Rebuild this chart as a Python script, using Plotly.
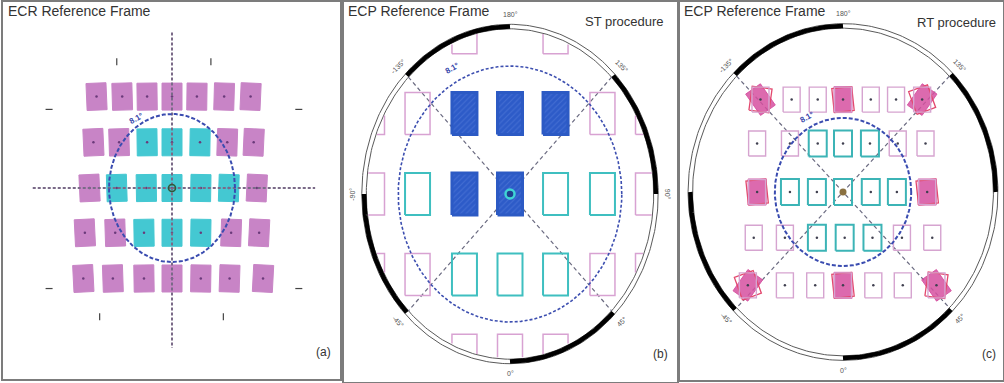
import numpy as np
import plotly.graph_objects as go

W, H = 1004, 383

# ---------------- data (degrees of visual angle) ----------------
circle_radius_deg = 8.1

# Panel (a): ECR frame, target centres per row (keystone distortion)
ecr_rows_deg = [10.0, 5.0, 0.0, -4.9, -9.9]
ecr_cols_deg = [
    [-9.7, -6.4, -3.2, 0.0, 3.2, 6.7, 10.1],
    [-10.1, -6.8, -3.2, 0.0, 3.6, 7.1, 10.5],
    [-10.6, -7.1, -3.3, 0.0, 3.7, 7.3, 10.9],
    [-11.2, -7.3, -3.6, 0.0, 3.7, 7.6, 11.2],
    [-11.4, -7.6, -3.6, 0.0, 3.7, 7.4, 11.7],
]
# 1 = target inside the 8.1 deg circle (cyan), 0 = outer target (magenta)
ecr_class = [
    [0, 0, 0, 0, 0, 0, 0],
    [0, 0, 1, 1, 1, 0, 0],
    [0, 1, 1, 1, 1, 1, 0],
    [0, 0, 1, 1, 1, 0, 0],
    [0, 0, 0, 0, 0, 0, 0],
]
ecr_mark_x = [-7.1, 5.0, -15.8, 16.3, -15.8, 16.3, -9.3, 6.6]
ecr_mark_y = [13.8, 13.8, 8.6, 8.6, -11.0, -11.0, -14.1, -14.1]
ecr_mark_kind = ["ns", "ns", "ew", "ew", "ew", "ew", "ns", "ns"]

# Panel (b): ECP frame, ST procedure
st_rows_deg = [10.2, 5.1, 0.0, -5.1, -10.2]
st_cols_deg = [-10.0, -6.7, -3.3, 0.0, 3.3, 6.7, 10.0]
# 0 none, 1 magenta outline, 2 cyan outline, 3 blue filled (sampled)
st_state = [
    [0, 0, 1, 0, 1, 0, 0],
    [1, 1, 3, 3, 3, 1, 1],
    [1, 2, 3, 3, 2, 2, 1],
    [1, 1, 2, 2, 2, 1, 1],
    [0, 0, 1, 1, 1, 0, 0],
]

# Panel (c): ECP frame, RT procedure
rt_rows_deg = [10.1, 5.3, 0.0, -5.0, -10.2]
rt_cols_deg = [
    [-9.8, -6.1, -3.0, 0.0, 3.3, 6.3, 9.4],
    [-10.2, -6.3, -3.0, 0.0, 3.2, 6.5, 9.8],
    [-10.2, -6.3, -3.1, 0.0, 3.3, 6.4, 10.0],
    [-10.6, -6.9, -3.1, 0.2, 3.5, 7.0, 10.6],
    [-11.3, -6.9, -3.3, 0.0, 3.6, 7.1, 11.1],
]
# 1 magenta outline, 2 cyan outline, 4 filled magenta (sampled)
rt_state = [
    [4, 1, 1, 4, 1, 1, 4],
    [1, 1, 2, 2, 2, 1, 1],
    [4, 2, 2, 2, 2, 2, 4],
    [1, 1, 2, 2, 2, 1, 1],
    [4, 1, 1, 4, 1, 1, 4],
]
rt_fill_rot = [
    [35, 0, 0, 0, 0, 0, -35],
    [0, 0, 0, 0, 0, 0, 0],
    [0, 0, 0, 0, 0, 0, 0],
    [0, 0, 0, 0, 0, 0, 0],
    [-35, 0, 0, 0, 0, 0, 35],
]

ring_angles = [0, 45, 90, 135, 180, -135, -90, -45]
ring_labels = ["0°", "45°", "90°", "135°", "180°", "-135°", "-90°", "-45°"]
black_arcs = [(0, 45), (90, 135), (180, 225), (270, 315)]

# ---------------- layout of the three panels (pixels) ----------------
panels = {
    "a": dict(box=(3, 2, 340, 379), c=(172, 188), s=(7.78, 9.14), ax=("x", "y")),
    "b": dict(box=(344, 2, 677, 382), c=(510, 194), s=(13.8, 15.8), ax=("x2", "y2"), ring=10.74),
    "c": dict(box=(680, 2, 1003, 380), c=(843, 192), s=(8.42, 9.15), ax=("x3", "y3"), ring=18.4),
}

FONT = "Liberation Sans, Arial, sans-serif"
fig = go.Figure()


def rect_outline(xc, yc, w, h, p, ang=0.0, n=1):
    sx, sy = p["s"]
    cx = [-w / 2, w / 2, w / 2, -w / 2, -w / 2]
    cy = [-h / 2, -h / 2, h / 2, h / 2, -h / 2]
    px, py = [], []
    for i in range(4):
        t = np.linspace(0, 1, n + 1)[:-1] if n > 1 else np.array([0.0])
        px += list(cx[i] + (cx[i + 1] - cx[i]) * t)
        py += list(cy[i] + (cy[i + 1] - cy[i]) * t)
    px.append(cx[0]); py.append(cy[0])
    px, py = np.array(px), np.array(py)
    a = np.radians(ang)
    rx = px * np.cos(a) - py * np.sin(a)
    ry = px * np.sin(a) + py * np.cos(a)
    return xc + rx / sx, yc + ry / sy


def add_polys(polys, p, fill=None, color=None, width=1.0, dash=None, opacity=1.0, pattern=None):
    xs, ys = [], []
    for px, py in polys:
        xs += list(px) + [None]
        ys += list(py) + [None]
    kw = {}
    if pattern is not None:
        kw["fillpattern"] = pattern
    fig.add_trace(go.Scatter(
        x=xs, y=ys, mode="lines", xaxis=p["ax"][0], yaxis=p["ax"][1],
        fill="toself" if fill else "none", fillcolor=fill,
        line=dict(color=color if color else "rgba(0,0,0,0)", width=width, dash=dash),
        opacity=opacity, hoverinfo="skip", showlegend=False, **kw))


def add_dots(xs, ys, p, color, size=3, symbol="circle", lw=0, lc=None):
    fig.add_trace(go.Scatter(
        x=xs, y=ys, mode="markers", xaxis=p["ax"][0], yaxis=p["ax"][1],
        marker=dict(color=color, size=size, symbol=symbol,
                    line=dict(width=lw, color=lc if lc else color)),
        hoverinfo="skip", showlegend=False))


def circle(r, n=300):
    t = np.linspace(0, 2 * np.pi, n)
    return r * np.cos(t), r * np.sin(t)


def ring_xy(p, off_px, th0, th1, n=90):
    sx, sy = p["s"]
    th = np.radians(np.linspace(th0, th1, n))
    Rx = p["ring"] * sx + off_px
    Ry = p["ring"] * sy + off_px
    return Rx * np.sin(th) / sx, -Ry * np.cos(th) / sy


def draw_ring(p, gap=4.5):
    for off in (0, -gap):
        add_polys([ring_xy(p, off, 0, 360, 360)], p, color="#5a5a5a", width=1)
    add_polys([ring_xy(p, -gap / 2, a0, a1) for a0, a1 in black_arcs], p, color="#000000", width=4.5)
    d1 = ring_xy(p, -gap, -135, -135, 1)
    d2 = ring_xy(p, -gap, 45, 45, 1)
    d3 = ring_xy(p, -gap, 135, 135, 1)
    d4 = ring_xy(p, -gap, -45, -45, 1)
    add_polys([(np.r_[d1[0], d2[0]], np.r_[d1[1], d2[1]]),
               (np.r_[d3[0], d4[0]], np.r_[d3[1], d4[1]])], p,
              color="#6a6a80", width=1.2, dash="4px,3px")
    rot = {0: 0, 45: -45, 90: 90, 135: 45, 180: 0, -135: -45, -90: -90, -45: 45}
    for th, lab in zip(ring_angles, ring_labels):
        lx, ly = ring_xy(p, 10, th, th, 1)
        fig.add_annotation(x=lx[0], y=ly[0], xref=p["ax"][0], yref=p["ax"][1], text=lab,
                           showarrow=False, textangle=rot[th],
                           font=dict(family=FONT, size=7, color="#555555"))


def label_81(p, r=9.0, ang=120):
    a = np.radians(ang)
    fig.add_annotation(x=r * np.cos(a), y=r * np.sin(a), xref=p["ax"][0], yref=p["ax"][1],
                       text="<b>8.1°</b>", showarrow=False, textangle=-30,
                       font=dict(family=FONT, size=8, color="#3344aa"))


# ---------------- panel (a) ----------------
pa = panels["a"]
mag, cyn = [], []
for r, yv in enumerate(ecr_rows_deg):
    for c, xv in enumerate(ecr_cols_deg[r]):
        poly = rect_outline(xv, yv, 20, 27, pa, ang=-0.25 * xv)
        (cyn if ecr_class[r][c] else mag).append(poly)
add_polys(mag, pa, fill="#c884c6", color="#c884c6", width=1)
add_polys(cyn, pa, fill="#44c8d2", color="#44c8d2", width=1)
dx = [xv for r in range(5) for xv in ecr_cols_deg[r]]
dy = [ecr_rows_deg[r] for r in range(5) for _ in ecr_cols_deg[r]]
add_dots(dx, dy, pa, "#6a3a7a", size=2.5)
add_polys([(np.array([0, 0]), np.array([17.0, -17.5])),
           (np.array([-17.9, 18.4]), np.array([0, 0]))], pa,
          color="#7a6a88", width=2, dash="3px,2px")
ex, ey = circle(circle_radius_deg)
add_polys([(ex, ey)], pa, color="#3a4cb0", width=2, dash="4px,2px")
add_dots([0], [0], pa, "rgba(0,0,0,0)", size=7, lw=1.6, lc="#2f5a3a")
ns = [i for i, k in enumerate(ecr_mark_kind) if k == "ns"]
ew = [i for i, k in enumerate(ecr_mark_kind) if k == "ew"]
add_dots([ecr_mark_x[i] for i in ns], [ecr_mark_y[i] for i in ns], pa, "#444444",
         size=5, symbol="line-ns", lw=1.2, lc="#444444")
add_dots([ecr_mark_x[i] for i in ew], [ecr_mark_y[i] for i in ew], pa, "#444444",
         size=5, symbol="line-ew", lw=1.2, lc="#444444")
label_81(pa, 8.9, 121)

# ---------------- panel (b) ----------------
pb = panels["b"]
draw_ring(pb)
sx, sy = pb["s"]
rin_x = (pb["ring"] * sx - 5) / sx
rin_y = (pb["ring"] * sy - 5) / sy


def clipped(poly):
    x, y = np.array(poly[0], dtype=float), np.array(poly[1], dtype=float)
    inside = (x / rin_x) ** 2 + (y / rin_y) ** 2 <= 1
    xs = [xv if ok else None for xv, ok in zip(x, inside)]
    ys = [yv if ok else None for yv, ok in zip(y, inside)]
    return xs, ys


mag_b, cyn_b, blu_b = [], [], []
for r, yv in enumerate(st_rows_deg):
    for c, xv in enumerate(st_cols_deg):
        s = st_state[r][c]
        if s == 0:
            continue
        poly = rect_outline(xv, yv, 25, 42, pb, n=40)
        if s == 1:
            mag_b.append(clipped(poly))
        elif s == 2:
            cyn_b.append(clipped(poly))
        else:
            blu_b.append(rect_outline(xv, yv, 25, 42, pb))
add_polys(mag_b, pb, color="#d8a2d2", width=1.5)
add_polys(cyn_b, pb, color="#3fbfc0", width=2)
add_polys(blu_b, pb, fill="#2f5fcc", color="#2c5ac4", width=3,
          pattern=dict(shape="/", bgcolor="#2d5bc8", fgcolor="#5a82dc", size=4, solidity=0.25))
ex, ey = circle(circle_radius_deg)
add_polys([(ex, ey)], pb, color="#3d4fb0", width=1.6, dash="3px,2px")
add_dots([0], [0], pb, "#1f3f8f", size=9, lw=2.5, lc="#3fd4d4")
label_81(pb, 9.0, 118)

# ---------------- panel (c) ----------------
pc = panels["c"]
draw_ring(pc)
mag_c, cyn_c, fill_c, red_c = [], [], [], []
for r, yv in enumerate(rt_rows_deg):
    for c, xv in enumerate(rt_cols_deg[r]):
        s = rt_state[r][c]
        if s == 2:
            cyn_c.append(rect_outline(xv, yv, 18, 26, pc))
        else:
            mag_c.append(rect_outline(xv, yv, 17, 25, pc))
        if s == 4:
            a = rt_fill_rot[r][c]
            fill_c.append(rect_outline(xv, yv, 18, 26, pc, ang=a))
            red_c.append(rect_outline(xv, yv, 20, 24, pc, ang=-a * 0.4 + 6))
add_polys(fill_c, pc, fill="rgba(214,80,160,0.85)", color="rgba(214,80,160,0.9)", width=1)
add_polys(red_c, pc, color="#e3486e", width=1.3)
add_polys(mag_c, pc, color="#d6a4d0", width=1.4)
add_polys(cyn_c, pc, color="#3cb4b6", width=2)
dx = [xv for r in range(5) for xv in rt_cols_deg[r]]
dy = [rt_rows_deg[r] for r in range(5) for _ in rt_cols_deg[r]]
add_dots(dx, dy, pc, "#404050", size=2.5)
ex, ey = circle(circle_radius_deg)
add_polys([(ex, ey)], pc, color="#3a4cb0", width=2, dash="4px,2px")
add_dots([0], [0], pc, "#8a7040", size=7)
label_81(pc, 9.2, 118)

# ---------------- axes / frames ----------------
layout_axes = {}
for i, (k, p) in enumerate(panels.items()):
    x0, y0, x1, y1 = p["box"]
    cx, cy = p["c"]
    sx, sy = p["s"]
    suf = "" if i == 0 else str(i + 1)
    common = dict(showgrid=False, zeroline=False, showticklabels=False, ticks="",
                  showline=True, mirror=True, linecolor="#7c7c7c", linewidth=2, fixedrange=True)
    layout_axes["xaxis" + suf] = dict(domain=[x0 / W, x1 / W],
                                      range=[(x0 - cx) / sx, (x1 - cx) / sx],
                                      anchor="y" + suf, **common)
    layout_axes["yaxis" + suf] = dict(domain=[1 - y1 / H, 1 - y0 / H],
                                      range=[(cy - y1) / sy, (cy - y0) / sy],
                                      anchor="x" + suf, **common)

fig.update_layout(width=W, height=H, margin=dict(l=0, r=0, t=0, b=0),
                  paper_bgcolor="white", plot_bgcolor="white", showlegend=False,
                  **layout_axes)


def ptext(px, py, text, size, anchor="left", color="#333333"):
    fig.add_annotation(x=px / W, y=1 - py / H, xref="paper", yref="paper", text=text,
                       showarrow=False, xanchor=anchor, yanchor="middle",
                       font=dict(family=FONT, size=size, color=color))


ptext(6, 11, "ECR Reference Frame", 14)
ptext(346, 11, "ECP Reference Frame", 14)
ptext(682, 11, "ECP Reference Frame", 14)
ptext(666, 21, "ST procedure", 13, anchor="right")
ptext(998, 23, "RT procedure", 13, anchor="right")
ptext(333, 352, "(a)", 12, anchor="right")
ptext(670, 354, "(b)", 12, anchor="right")
ptext(998, 354, "(c)", 12, anchor="right")

fig.write_html("out.html", config={"displayModeBar": False},
               post_script="document.body.style.margin='0';document.body.style.overflow='hidden';")
